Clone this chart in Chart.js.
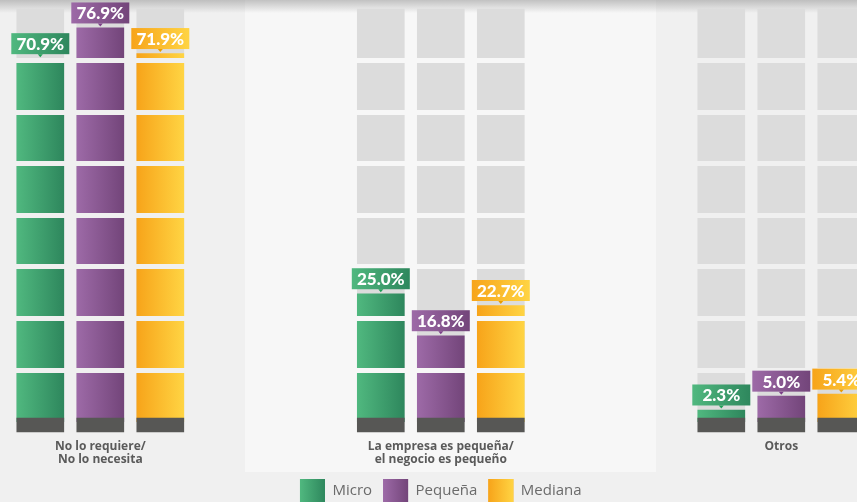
<!DOCTYPE html>
<html lang="es">
<head>
<meta charset="utf-8">
<title>Motivos</title>
<script src="https://cdn.jsdelivr.net/npm/chart.js@4/dist/chart.umd.min.js"></script>
<style>
    body { margin: 0; width: 857px; height: 502px; overflow: hidden; position: relative; background: #f0f0f0; }
    .panel { position: absolute; left: 245px; top: 0; width: 411px; height: 472px; background: #f7f7f7; }
    .shade { position: absolute; left: 0; top: 0; width: 857px; height: 13px; background: linear-gradient(rgba(150,150,150,0.55), rgba(200,200,200,0)); }
    canvas { position: absolute; left: 0; top: 0; }
</style>
</head>
<body>
<div class="panel"></div>
<div class="shade"></div>
<canvas id="chart" width="857" height="513"></canvas>
<script>
// Data
const categories = [['No lo requiere/', 'No lo necesita'], ['La empresa es pequeña/', 'el negocio es pequeño'], 'Otros'];
const seriesNames = ['Micro', 'Pequeña', 'Mediana'];
const micro = [70.9, 25.0, 2.3];
const pequena = [76.9, 16.8, 5.0];
const mediana = [71.9, 22.7, 5.4];
const trackTop = 80.6;        // top of the grey columns
const baseBand = [-2, 0.7];   // dark foot of every column
const trackSegments = 8;

const seriesValues = [micro, pequena, mediana];
const seriesColors = [
    ['#50b87f', '#2e875d'],
    ['#9d6aa7', '#73457a'],
    ['#f7a41a', '#ffd443']
];
const pointerColors = ['#1f9e55', '#7b3f88', '#e89c00'];

function hGradient(ctx, x0, x1, colors) {
    const g = ctx.createLinearGradient(x0, 0, x1, 0);
    g.addColorStop(0, colors[0]);
    g.addColorStop(1, colors[1]);
    return g;
}

const common = { barThickness: 60, maxBarThickness: 47, borderWidth: 0, clip: false };
const datasets = [];
seriesNames.forEach((name, i) => {
    // dark foot (drawn on top)
    datasets.push(Object.assign({
        data: categories.map(() => baseBand), backgroundColor: '#575755', stack: 's' + i, order: 0
    }, common));
});
seriesNames.forEach((name, i) => {
    datasets.push(Object.assign({
        label: name, data: seriesValues[i], backgroundColor: seriesColors[i][0],
        stack: 's' + i, order: 1, seriesIndex: i
    }, common));
    // grey column behind
    datasets.push(Object.assign({
        data: categories.map(() => [0, trackTop]), backgroundColor: '#dcdcdc', stack: 's' + i, order: 2
    }, common));
});

const columnStyle = {
    id: 'columnStyle',
    beforeDatasetsDraw(chart) {
        const ctx = chart.ctx;
        chart.data.datasets.forEach((ds, i) => {
            if (ds.seriesIndex === undefined) return;
            chart.getDatasetMeta(i).data.forEach(bar => {
                const g = hGradient(ctx, bar.x - bar.width / 2, bar.x + bar.width / 2, seriesColors[ds.seriesIndex]);
                bar.options = Object.assign({}, bar.options, { backgroundColor: g });
            });
        });
    },
    afterDatasetsDraw(chart) {
        const { ctx, scales: { y } } = chart;
        // cut the columns into blocks
        for (let k = 1; k < trackSegments; k++) {
            const py = y.getPixelForValue(trackTop * k / trackSegments);
            ctx.clearRect(0, py - 2.5, chart.width, 5);
        }
        // value callouts
        const boxW = 58, boxH = 21, lift = 4.5;
        ctx.save();
        ctx.font = '900 17px Lato';
        ctx.textAlign = 'center';
        ctx.textBaseline = 'middle';
        chart.data.datasets.forEach((ds, i) => {
            if (ds.seriesIndex === undefined) return;
            const s = ds.seriesIndex;
            chart.getDatasetMeta(i).data.forEach((bar, j) => {
                const bottom = bar.y - lift;
                const left = bar.x - boxW / 2;
                ctx.fillStyle = hGradient(ctx, left, left + boxW, seriesColors[s]);
                ctx.fillRect(left, bottom - boxH, boxW, boxH);
                ctx.fillStyle = pointerColors[s];
                ctx.beginPath();
                ctx.moveTo(bar.x - 2.5, bottom);
                ctx.lineTo(bar.x + 2.5, bottom);
                ctx.lineTo(bar.x, bottom + 3);
                ctx.fill();
                ctx.fillStyle = '#ffffff';
                ctx.fillText(ds.data[j].toFixed(1) + '%', bar.x, bottom - boxH / 2 + 1);
            });
        });
        ctx.restore();
    },
    afterDraw(chart) {
        // repaint legend swatches with the same gradients
        const legend = chart.legend;
        const ctx = chart.ctx;
        const lab = legend.options.labels;
        legend.legendItems.forEach((item, i) => {
            const hb = legend.legendHitBoxes[i];
            const ds = chart.data.datasets[item.datasetIndex];
            ctx.fillStyle = hGradient(ctx, hb.left, hb.left + lab.boxWidth, seriesColors[ds.seriesIndex]);
            ctx.fillRect(hb.left, hb.top, lab.boxWidth, lab.boxHeight);
        });
    }
};

new Chart(document.getElementById('chart'), {
    type: 'bar',
    data: { labels: categories, datasets: datasets },
    options: {
        responsive: false,
        animation: false,
        events: [],
        layout: { padding: { top: 9, left: 100.3, right: 75.7, bottom: 0 } },
        scales: {
            x: {
                type: 'category',
                offset: false,
                grid: { display: false, drawTicks: false },
                border: { display: false },
                ticks: {
                    autoSkip: false,
                    maxRotation: 0,
                    padding: 8,
                    color: '#5a5a5a',
                    font: { family: '"Open Sans"', size: 12, weight: 'bold', lineHeight: 1.1 }
                },
                afterFit: scale => { scale.height = 36; }
            },
            y: { display: false, stacked: false, min: -2, max: trackTop }
        },
        plugins: {
            legend: {
                position: 'bottom',
                labels: {
                    filter: (item, data) => data.datasets[item.datasetIndex].seriesIndex !== undefined,
                    boxWidth: 25,
                    boxHeight: 24,
                    padding: 11,
                    color: '#6b6b6b',
                    font: { family: '"Open Sans"', size: 15 }
                }
            },
            tooltip: { enabled: false }
        }
    },
    plugins: [columnStyle]
});
</script>
</body>
</html>
